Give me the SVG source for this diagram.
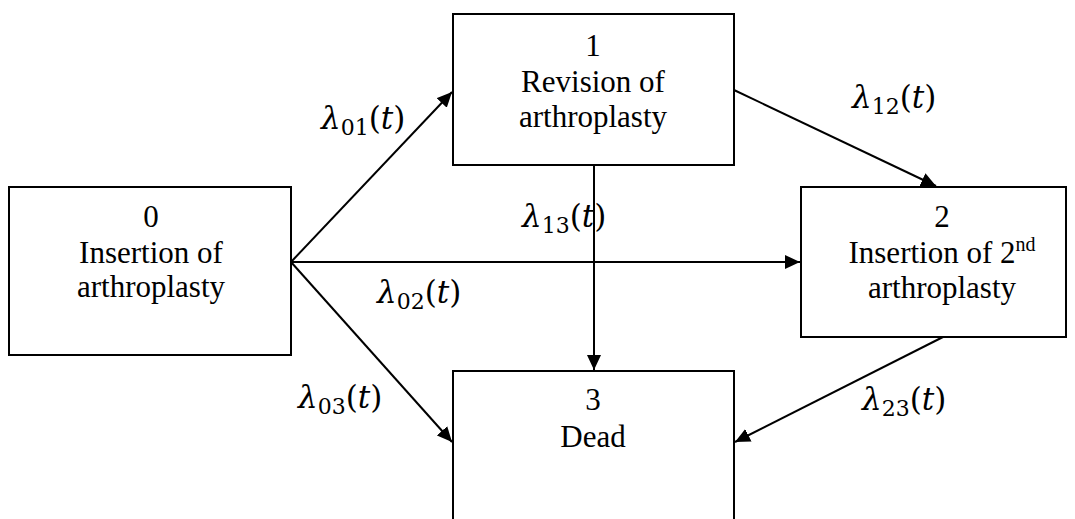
<svg xmlns="http://www.w3.org/2000/svg" width="1075" height="519" viewBox="0 0 1075 519">
<style>
.box{fill:#fff;stroke:#000;stroke-width:2}
.t{font-family:"Liberation Serif","Times New Roman",serif;font-size:31px;fill:#000;text-anchor:middle}
.lab{font-family:"DejaVu Serif",serif;font-size:31px;fill:#000}
.lab .it{font-style:italic}
.lab .sub{font-size:22px}
.c{stroke:#000;stroke-width:2;fill:none;marker-end:url(#ah)}
</style>
<defs>
<marker id="ah" markerUnits="userSpaceOnUse" markerWidth="16" markerHeight="14" refX="15" refY="7" orient="auto">
<path d="M0,0 L15,7 L0,14 Z" fill="#000"/>
</marker>
</defs>
<rect width="1075" height="519" fill="#fff"/>
<g id="connectors">
<line class="c" x1="291" y1="262" x2="452" y2="92"/>
<line class="c" x1="291" y1="262" x2="800" y2="262"/>
<line class="c" x1="291" y1="262" x2="452" y2="442"/>
<line class="c" x1="594" y1="165" x2="594" y2="370"/>
<line class="c" x1="734" y1="90" x2="936" y2="186"/>
<line class="c" x1="943" y1="337" x2="735" y2="442"/>
</g>
<g id="node0">
<rect class="box" x="9" y="187" width="282" height="168"/>
<text class="t" x="151" y="227">0</text>
<text class="t" x="151" y="263">Insertion of</text>
<text class="t" x="151" y="297">arthroplasty</text>
</g>
<g id="node1">
<rect class="box" x="453" y="14" width="281" height="151"/>
<text class="t" x="593" y="56">1</text>
<text class="t" x="593" y="92">Revision of</text>
<text class="t" x="593" y="127">arthroplasty</text>
</g>
<g id="node2">
<rect class="box" x="801" y="187" width="265" height="150"/>
<text class="t" x="942" y="227">2</text>
<text class="t" x="942" y="263">Insertion of 2<tspan font-size="20" dy="-12">nd</tspan></text>
<text class="t" x="942" y="298">arthroplasty</text>
</g>
<g id="node3">
<rect class="box" x="453" y="371" width="281" height="160"/>
<text class="t" x="593" y="410">3</text>
<text class="t" x="593" y="447">Dead</text>
</g>
<g id="labels">
<text class="lab" x="321" y="129"><tspan class="it">λ</tspan><tspan class="sub" dy="6">01</tspan><tspan dy="-6">(</tspan><tspan class="it">t</tspan>)</text>
<text class="lab" x="852" y="108"><tspan class="it">λ</tspan><tspan class="sub" dy="6">12</tspan><tspan dy="-6">(</tspan><tspan class="it">t</tspan>)</text>
<text class="lab" x="522" y="227"><tspan class="it">λ</tspan><tspan class="sub" dy="6">13</tspan><tspan dy="-6">(</tspan><tspan class="it">t</tspan>)</text>
<text class="lab" x="377" y="303"><tspan class="it">λ</tspan><tspan class="sub" dy="6">02</tspan><tspan dy="-6">(</tspan><tspan class="it">t</tspan>)</text>
<text class="lab" x="298" y="408"><tspan class="it">λ</tspan><tspan class="sub" dy="6">03</tspan><tspan dy="-6">(</tspan><tspan class="it">t</tspan>)</text>
<text class="lab" x="862" y="410"><tspan class="it">λ</tspan><tspan class="sub" dy="6">23</tspan><tspan dy="-6">(</tspan><tspan class="it">t</tspan>)</text>
</g>
</svg>
